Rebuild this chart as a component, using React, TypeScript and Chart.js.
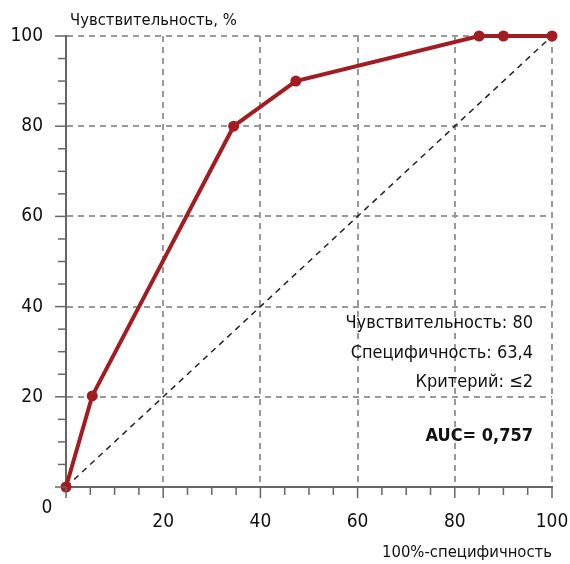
import React, { useEffect, useRef } from "react";
import { Chart, registerables } from "chart.js";

Chart.register(...registerables);

const fpr = [0, 5.4, 34.5, 47.3, 85.0, 90.0, 100];
const sens = [0, 20.2, 80, 90, 100, 100, 100];
const diagX = [0, 100];
const diagY = [0, 100];
const yTitle = "Чувствительность, %";
const xTitle = "100%-специфичность";
const notes = ["Чувствительность: 80", "Специфичность: 63,4", "Критерий: ≤2"];
const aucText = "AUC= 0,757";

const FONT = '"Liberation Sans Narrow", "DejaVu Sans Condensed", Roboto, sans-serif';
const RED = "#a21c22";

const extraPlugin = {
  id: "extras",
  afterDraw(chart: any) {
    const { ctx, chartArea } = chart;
    const xs = chart.scales.x;
    const ys = chart.scales.y;
    ctx.save();
    ctx.strokeStyle = "#666";
    ctx.lineWidth = 1.5;
    xs.ticks.forEach((t: any) => {
      const px = xs.getPixelForValue(t.value);
      const len = t.value % 20 === 0 ? 11 : 8;
      ctx.beginPath();
      ctx.moveTo(px, chartArea.bottom);
      ctx.lineTo(px, chartArea.bottom + len);
      ctx.stroke();
    });
    ys.ticks.forEach((t: any) => {
      const py = ys.getPixelForValue(t.value);
      const len = t.value % 20 === 0 ? 11 : 8;
      ctx.beginPath();
      ctx.moveTo(chartArea.left - len, py);
      ctx.lineTo(chartArea.left, py);
      ctx.stroke();
    });
    ctx.fillStyle = "#111";
    ctx.font = `16.5px ${FONT}`;
    ctx.textAlign = "left";
    ctx.textBaseline = "middle";
    ctx.fillText(yTitle, chartArea.left + 4, 21);
    ctx.textAlign = "right";
    ctx.fillText(xTitle, chartArea.right, 553);
    ctx.font = `19px ${FONT}`;
    ctx.textAlign = "center";
    ctx.fillText("0", chartArea.left - 19, chartArea.bottom + 21);
    ctx.font = `18px ${FONT}`;
    ctx.textAlign = "right";
    const ax = chartArea.right - 19;
    const ny = [323, 353, 382];
    notes.forEach((n, i) => ctx.fillText(n, ax, ny[i]));
    ctx.font = `bold 18px ${FONT}`;
    ctx.fillText(aucText, ax, 436);
    ctx.restore();
  },
};

export default function App() {
  const ref = useRef<HTMLCanvasElement>(null);
  useEffect(() => {
    if (!ref.current) return;
    const gridColor = (c: any) =>
      c.tick && c.tick.value % 20 === 0 ? "#999999" : "rgba(0,0,0,0)";
    const chart = new Chart(ref.current, {
      type: "line",
      data: {
        datasets: [
          {
            data: fpr.map((x, i) => ({ x, y: sens[i] })),
            borderColor: RED,
            backgroundColor: RED,
            borderWidth: 4,
            pointRadius: 5.5,
            pointBackgroundColor: RED,
            pointBorderWidth: 0,
            tension: 0,
            clip: false,
          },
          {
            data: diagX.map((x, i) => ({ x, y: diagY[i] })),
            borderColor: "#222",
            borderWidth: 1.5,
            borderDash: [6, 5],
            pointRadius: 0,
            tension: 0,
          },
        ],
      },
      options: {
        animation: false,
        responsive: false,
        layout: { padding: { left: 0, top: 36, right: 18, bottom: 0 } },
        plugins: { legend: { display: false }, tooltip: { enabled: false } },
        scales: {
          x: {
            type: "linear",
            min: 0,
            max: 100,
            afterFit: (s: any) => {
              s.height = 77;
              s.paddingLeft = 0;
              s.paddingRight = 0;
            },
            ticks: {
              stepSize: 5,
              autoSkip: false,
              maxRotation: 0,
              padding: 24,
              color: "#111",
              font: { family: FONT, size: 19 },
              callback: (v: any) => (v % 20 === 0 && v !== 0 ? String(v) : ""),
            },
            grid: { color: gridColor, lineWidth: 2, drawTicks: false },
            border: { color: "#666", width: 2, dash: [6, 5] },
          },
          y: {
            type: "linear",
            min: 0,
            max: 100,
            afterFit: (s: any) => {
              s.width = 66;
              s.paddingTop = 0;
              s.paddingBottom = 0;
            },
            ticks: {
              stepSize: 5,
              autoSkip: false,
              padding: 23,
              color: "#111",
              font: { family: FONT, size: 19 },
              callback: (v: any) => (v % 20 === 0 && v !== 0 ? String(v) : ""),
            },
            grid: { color: gridColor, lineWidth: 2, drawTicks: false },
            border: { color: "#666", width: 2, dash: [6, 5] },
          },
        },
      },
      plugins: [extraPlugin],
    });
    return () => chart.destroy();
  }, []);
  return (
    <div style={{ position: "absolute", left: 0, top: 0, width: 570, height: 564 }}>
      <canvas ref={ref} width={570} height={564} style={{ display: "block" }} />
    </div>
  );
}
